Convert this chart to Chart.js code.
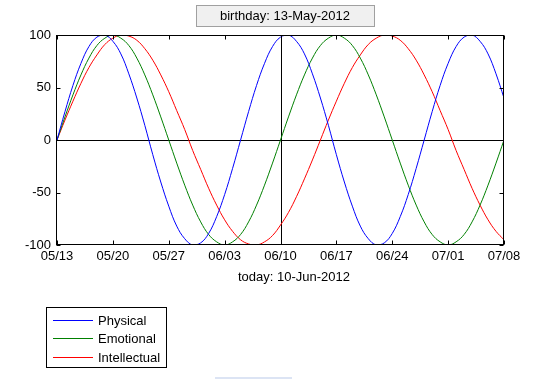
<!DOCTYPE html>
<html><head><meta charset="utf-8">
<script src="https://cdn.jsdelivr.net/npm/chart.js@4"></script>
<style>
html,body{margin:0;padding:0;background:#fff;}
#wrap{position:relative;width:560px;height:379px;}
canvas{position:absolute;left:0;top:0;}
#bar{position:absolute;left:215px;top:377px;width:77px;height:2px;background:#dce4f4;}
</style></head>
<body><div id="wrap"><canvas id="c" width="560" height="379"></canvas><div id="bar"></div></div>
<script>
// days since birthday (13-May-2012)
const days = [0,1,2,3,4,5,6,7,8,9,10,11,12,13,14,15,16,17,18,19,20,21,22,23,24,25,26,27,28,29,30,31,32,33,34,35,36,37,38,39,40,41,42,43,44,45,46,47,48,49,50,51,52,53,54,55,56];
const physical = [0,27,52,73,89,98,100,94,82,63,40,14,-14,-40,-63,-82,-94,-100,-98,-89,-73,-52,-27,
  0,27,52,73,89,98,100,94,82,63,40,14,-14,-40,-63,-82,-94,-100,-98,-89,-73,-52,-27,
  0,27,52,73,89,98,100,94,82,63,40];
const emotional = [0,22,43,62,78,90,97,100,97,90,78,62,43,22,0,-22,-43,-62,-78,-90,-97,-100,-97,-90,-78,-62,-43,-22,
  0,22,43,62,78,90,97,100,97,90,78,62,43,22,0,-22,-43,-62,-78,-90,-97,-100,-97,-90,-78,-62,-43,-22,0];
const intellectual = [0,19,37,54,69,81,91,97,100,99,95,87,76,62,46,28,10,-10,-28,-46,-62,-76,-87,-95,-99,-100,-97,-91,-81,-69,-54,-37,-19,
  0,19,37,54,69,81,91,97,100,99,95,87,76,62,46,28,10,-10,-28,-46,-62,-76,-87,-95];
const xTickLabels = ['05/13','05/20','05/27','06/03','06/10','06/17','06/24','07/01','07/08'];
const yTicks = [-100,-50,0,50,100];
const todayDay = 28;
const titleText = 'birthday: 13-May-2012';
const xLabelText = 'today: 10-Jun-2012';
const seriesNames = ['Physical','Emotional','Intellectual'];
const seriesColors = ['#0000ff','#008000','#ff0000'];

const FONT = '13px "Liberation Sans", Arial, sans-serif';
const seriesData = [physical, emotional, intellectual];

const deco = {
  id:'deco',
  beforeDatasetsDraw(chart){
    const {ctx, chartArea:a, scales:{x,y}} = chart;
    ctx.save();
    ctx.strokeStyle='#000'; ctx.lineWidth=1;
    const y0 = Math.round(y.getPixelForValue(0))+0.5;
    const xt = Math.round(x.getPixelForValue(todayDay))+0.5;
    ctx.beginPath();
    ctx.moveTo(a.left,y0); ctx.lineTo(a.right,y0);
    ctx.moveTo(xt,a.top); ctx.lineTo(xt,a.bottom);
    ctx.stroke();
    ctx.restore();
  },
  afterDraw(chart){
    const {ctx, chartArea:a, scales:{x,y}} = chart;
    ctx.save();
    ctx.strokeStyle='#000'; ctx.lineWidth=1;
    const L=Math.round(a.left)-0.5, R=Math.round(a.right)-0.5, T=Math.round(a.top)+0.5, B=Math.round(a.bottom)-0.5;
    ctx.strokeRect(L,T,R-L,B-T);
    ctx.beginPath();
    x.ticks.forEach(t=>{const p=Math.round(x.getPixelForValue(t.value))+0.5; ctx.moveTo(p,T); ctx.lineTo(p,T+4); ctx.moveTo(p,B); ctx.lineTo(p,B-4);});
    y.ticks.forEach(t=>{const p=Math.round(y.getPixelForValue(t.value))+0.5; ctx.moveTo(L,p); ctx.lineTo(L+4,p); ctx.moveTo(R,p); ctx.lineTo(R-4,p);});
    ctx.stroke();
    // title box
    ctx.fillStyle='#f0f0f0'; ctx.fillRect(197,6,177,20);
    ctx.strokeStyle='#a0a0a0'; ctx.strokeRect(196.5,5.5,178,21);
    ctx.fillStyle='#000'; ctx.font=FONT; ctx.textAlign='center'; ctx.textBaseline='middle';
    ctx.fillText(titleText,285,16);
    // x label
    ctx.fillText(xLabelText,294,277);
    // legend
    ctx.strokeStyle='#000';
    ctx.strokeRect(46.5,307.5,120,60);
    ctx.textAlign='left';
    const rows=[320,338,357];
    chart.data.datasets.forEach((ds,i)=>{
      ctx.strokeStyle=ds.borderColor; ctx.beginPath(); ctx.moveTo(53,rows[i]+0.5); ctx.lineTo(93,rows[i]+0.5); ctx.stroke();
      ctx.fillStyle='#000'; ctx.fillText(ds.label,98,rows[i]+1);
    });
    ctx.restore();
  }
};

new Chart(document.getElementById('c'),{
  type:'line',
  data:{
    datasets: seriesData.map((arr,i)=>({
      label: seriesNames[i],
      data: arr.map((v,j)=>({x:days[j],y:v})),
      borderColor: seriesColors[i],
      borderWidth:1,
      pointRadius:0,
      tension:0.4,
      fill:false
    }))
  },
  options:{
    responsive:false, animation:false,
    layout:{padding:{left:17,right:56,top:35,bottom:104}},
    plugins:{legend:{display:false},tooltip:{enabled:false}},
    scales:{
      x:{type:'linear',min:0,max:56,
        afterBuildTicks(s){s.ticks = xTickLabels.map((l,i)=>({value:i*7}));},
        afterFit(s){s.height=30;},
        grid:{display:false,drawTicks:false}, border:{display:false},
        ticks:{autoSkip:false,maxRotation:0,padding:4,color:'#000',font:{family:'"Liberation Sans", Arial, sans-serif',size:13},
          callback:(v)=>xTickLabels[Math.round(v/7)]}
      },
      y:{min:-100,max:100,
        afterBuildTicks(s){s.ticks = yTicks.map(v=>({value:v}));},
        afterFit(s){s.width=40;},
        grid:{display:false,drawTicks:false}, border:{display:false},
        ticks:{padding:6,color:'#000',font:{family:'"Liberation Sans", Arial, sans-serif',size:13}}
      }
    }
  },
  plugins:[deco]
});
</script></body></html>
